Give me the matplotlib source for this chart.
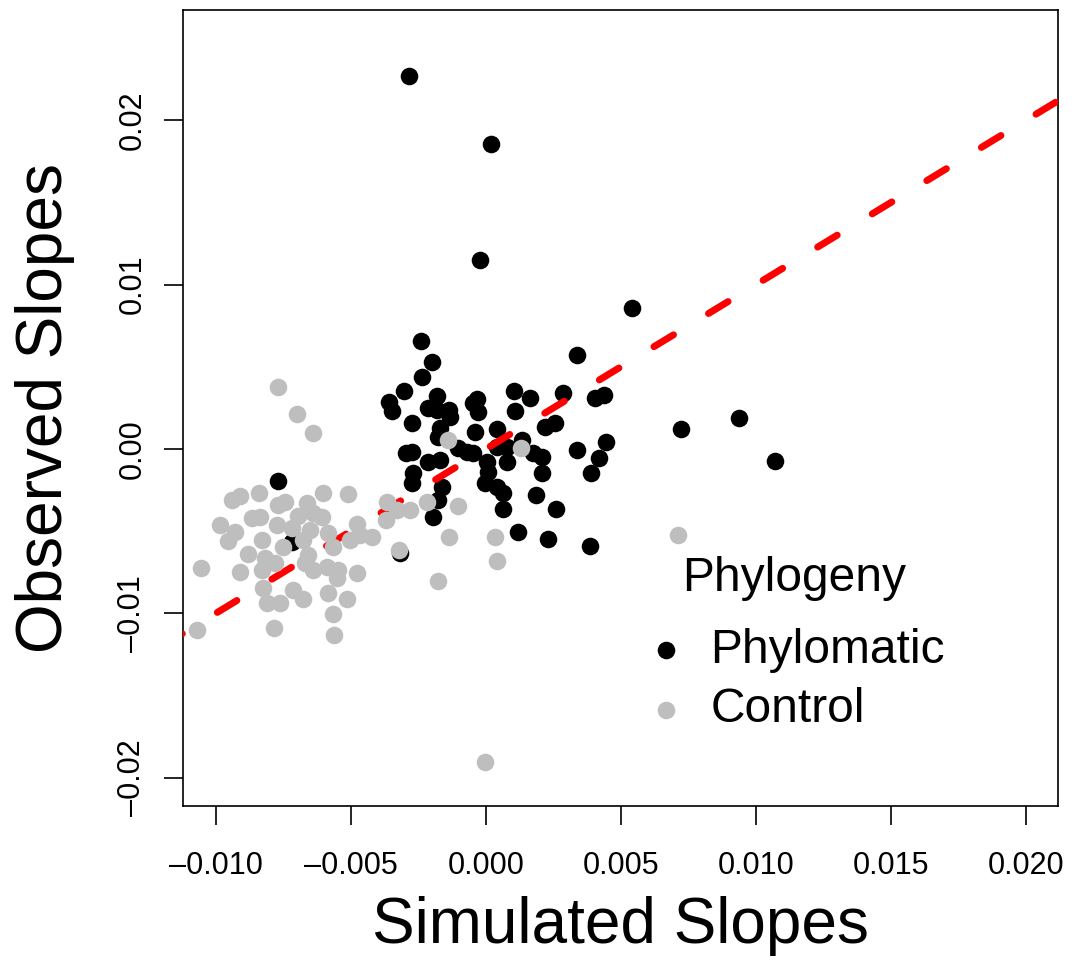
import numpy as np
import matplotlib
matplotlib.use("Agg")
import matplotlib.pyplot as plt
from matplotlib.ticker import FuncFormatter

plt.rcParams["font.family"] = ["Liberation Sans", "DejaVu Sans"]

# Phylomatic (black) points, values in units of 1e-3
phylo_x = [-2.85, 0.19, -0.22, 5.41, 3.37, -2.41, -2.00, -2.37, -3.04, -3.59,
           -3.48, -1.81, -2.15, -1.81, -1.37, -1.33, -0.33, -0.48, -0.30, 1.04,
           1.63, 1.07, -2.74, -1.70, -1.78, -0.41, 0.41, 2.19, 2.56, 2.85,
           4.04, 4.37, -2.96, -2.74, -2.15, -1.70, -1.04, -0.70, -0.48, 0.41,
           0.78, 1.33, 1.74, 2.07, 0.04, 0.07, -0.04, 0.78, 2.07, 3.37,
           4.44, 4.19, 3.89, -2.70, -2.74, -1.63, -1.78, 0.41, 0.63, 0.63,
           1.85, 2.59, -1.96, 1.19, 2.30, 3.85, -3.19, -7.70, -7.19, 7.22,
           9.37, 10.70]
phylo_y = [22.70, 18.56, 11.50, 8.58, 5.72, 6.57, 5.30, 4.38, 3.53, 2.86,
           2.31, 3.23, 2.50, 2.37, 2.37, 1.95, 3.04, 2.80, 2.25, 3.53,
           3.10, 2.31, 1.58, 1.28, 0.73, 1.03, 1.22, 1.34, 1.58, 3.41,
           3.10, 3.29, -0.24, -0.18, -0.79, -0.67, 0.06, -0.18, -0.24, 0.12,
           0.12, 0.55, -0.24, -0.49, -0.79, -1.40, -2.07, -0.79, -1.46, -0.06,
           0.43, -0.55, -1.46, -1.46, -2.07, -2.31, -3.10, -2.31, -2.68, -3.65,
           -2.80, -3.65, -4.14, -5.05, -5.48, -5.90, -6.33, -1.95, -5.66, 1.22,
           1.89, -0.73]

# Control (grey) points, values in units of 1e-3
ctrl_x = [-7.70, -7.00, -6.41, -9.41, -9.11, -8.41, -5.11, -6.04, -7.70, -7.44,
          -6.63, -9.85, -9.30, -9.56, -8.67, -8.37, -7.74, -6.96, -6.41, -6.07,
          -8.30, -7.19, -6.52, -5.85, -6.78, -7.52, -5.67, -8.81, -8.19, -7.81,
          -8.30, -6.59, -6.70, -6.41, -5.89, -5.48, -5.52, -4.78, -9.11, -10.56,
          -8.26, -8.11, -7.63, -7.15, -6.78, -5.85, -5.15, -5.67, -7.85, -5.63,
          -10.70, -4.78, -5.04, -4.67, -4.22, -3.67, -3.30, -2.81, -2.19, -3.70,
          -3.22, -1.78, -1.41, 1.30, -1.04, -1.37, 0.33, 0.41, 7.11, -0.04]
ctrl_y = [3.77, 2.13, 0.97, -3.10, -2.86, -2.68, -2.74, -2.68, -3.41, -3.23,
          -3.29, -4.63, -5.05, -5.60, -4.20, -4.14, -4.63, -4.08, -3.90, -4.14,
          -5.54, -4.81, -4.93, -5.11, -5.54, -5.96, -5.96, -6.39, -6.63, -6.94,
          -7.36, -6.45, -6.94, -7.36, -7.18, -7.36, -7.85, -7.55, -7.49, -7.24,
          -8.46, -9.37, -9.37, -8.58, -9.13, -8.76, -9.13, -10.04, -10.89, -11.32,
          -11.02, -4.56, -5.54, -5.23, -5.36, -3.23, -3.71, -3.71, -3.23, -4.32,
          -6.15, -8.03, 0.55, 0.06, -3.47, -5.36, -5.36, -6.82, -5.23, -19.05]

xticks = [-0.010, -0.005, 0.000, 0.005, 0.010, 0.015, 0.020]
yticks = [-0.02, -0.01, 0.00, 0.01, 0.02]

px = np.array(phylo_x) / 1000
py = np.array(phylo_y) / 1000
cx = np.array(ctrl_x) / 1000
cy = np.array(ctrl_y) / 1000


def fmt(nd):
    def f(v, pos):
        s = "%.*f" % (nd, v)
        if s.startswith("-"):
            s = "\u2013" + s[1:]
        return s
    return FuncFormatter(f)


fig = plt.figure(figsize=(10.72, 9.68), dpi=100)
ax = fig.add_axes([0.1707, 0.1674, 0.8162, 0.8223])

xlim = (-0.01122, 0.02119)
ylim = (-0.02173, 0.02672)
ax.set_xlim(*xlim)
ax.set_ylim(*ylim)

ms = 160
ax.scatter(px, py, s=ms, color="black", linewidths=0, zorder=2, label="Phylomatic")
# 1:1 line
ax.plot([-0.02, 0.03], [-0.02, 0.03], color="red", lw=5, dashes=(3.3, 5.9),
        dash_capstyle="round", zorder=3)
ax.scatter(cx, cy, s=ms, color="#BEBEBE", linewidths=0, zorder=4, label="Control")

ax.set_xticks(xticks)
ax.set_yticks(yticks)
ax.xaxis.set_major_formatter(fmt(3))
ax.yaxis.set_major_formatter(fmt(2))
ax.tick_params(direction="out", length=13.7, width=1.2, labelsize=22)
ax.tick_params(axis="x", pad=19)
ax.tick_params(axis="y", pad=12)
for lab in ax.get_yticklabels():
    lab.set_rotation(90)
    lab.set_va("center")
for sp in ax.spines.values():
    sp.set_linewidth(1.2)

ax.set_xlabel("Simulated Slopes", fontsize=46)
ax.set_ylabel("Observed Slopes", fontsize=46)
ax.xaxis.label.set_va("baseline")
ax.yaxis.label.set_va("baseline")
ax.xaxis.set_label_coords(0.5, -0.1721)
ax.yaxis.set_label_coords(-0.1383, 0.5)

leg = ax.legend(title="Phylogeny", loc="center", bbox_to_anchor=(0.698, 0.2035),
                frameon=False, fontsize=34.5, title_fontsize=34.5,
                handlelength=1.0, handletextpad=0.42, labelspacing=0.3,
                borderaxespad=0, borderpad=0)
leg._legend_box.sep = 19.5

fig.savefig("out.png", dpi=100)
